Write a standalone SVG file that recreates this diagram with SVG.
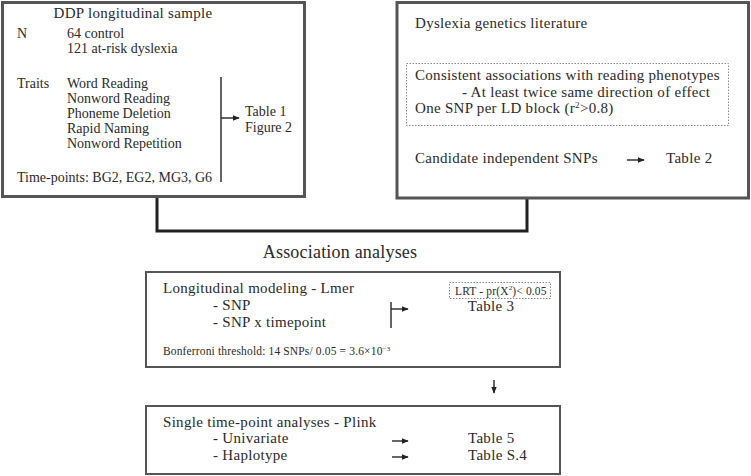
<svg xmlns="http://www.w3.org/2000/svg" width="751" height="476" viewBox="0 0 751 476">
<style>
text{font-family:"Liberation Serif","Times New Roman",serif;fill:#2a2a2a;font-size:15px;letter-spacing:0.3px}
.b1{font-size:14px;letter-spacing:0}
.sm{font-size:11.5px;letter-spacing:0.15px}
.big{font-size:18px;letter-spacing:0.2px}
.box{fill:#fff;stroke:#555;stroke-width:3}
.box2{fill:#fff;stroke:#555;stroke-width:2}
.dot{fill:none;stroke:#888;stroke-width:1;stroke-dasharray:1.5 1.5}
.ln{fill:none;stroke:#333;stroke-width:1.5}
.conn{fill:none;stroke:#222;stroke-width:3}
</style>
<defs>
<marker id="ah" viewBox="0 0 10 10" refX="9" refY="5" markerWidth="7" markerHeight="7" orient="auto" markerUnits="userSpaceOnUse">
<path d="M0,1 L10,5 L0,9 z" fill="#222"/>
</marker>
</defs>
<rect width="751" height="476" fill="#fff"/>
<g id="connectors">
<path class="conn" d="M157,197 V231 H527 V198"/>
</g>
<g id="ddp">
<rect class="box" x="2.5" y="2.5" width="302" height="194"/>
<text x="133" y="18" text-anchor="middle">DDP longitudinal sample</text>
<text class="b1" x="17" y="38">N</text>
<text class="b1" x="67" y="38">64 control</text>
<text class="b1" x="67" y="53">121 at-risk dyslexia</text>
<text class="b1" x="17" y="88">Traits</text>
<text class="b1" x="67" y="88">Word Reading</text>
<text class="b1" x="67" y="103">Nonword Reading</text>
<text class="b1" x="67" y="118">Phoneme Deletion</text>
<text class="b1" x="67" y="133">Rapid Naming</text>
<text class="b1" x="67" y="148">Nonword Repetition</text>
<text class="b1" x="17" y="182">Time-points: BG2, EG2, MG3, G6</text>
<line class="ln" x1="221" y1="77" x2="221" y2="182"/>
<line class="ln" x1="221" y1="118" x2="239" y2="118" marker-end="url(#ah)"/>
<text class="b1" x="245" y="116">Table 1</text>
<text class="b1" x="245" y="132">Figure 2</text>
</g>
<g id="literature">
<rect class="box" x="397" y="2.5" width="351.5" height="195.5"/>
<text x="415" y="28">Dyslexia genetics literature</text>
<rect class="dot" x="406.5" y="63.5" width="322" height="62"/>
<text x="415" y="80">Consistent associations with reading phenotypes</text>
<text x="462" y="97">- At least twice same direction of effect</text>
<text x="415" y="113">One SNP per LD block (r<tspan font-size="9" dy="-5">2</tspan><tspan dy="5">&gt;0.8)</tspan></text>
<text x="415" y="163">Candidate independent SNPs</text>
<line class="ln" x1="627" y1="160" x2="644" y2="160" marker-end="url(#ah)"/>
<text x="666" y="163">Table 2</text>
</g>
<g id="association-title">
<text class="big" x="340" y="258" text-anchor="middle">Association analyses</text>
</g>
<g id="longitudinal">
<rect class="box2" x="146" y="272" width="414" height="95"/>
<text x="163" y="293">Longitudinal modeling - Lmer</text>
<text x="213" y="310">- SNP</text>
<text x="213" y="327">- SNP x timepoint</text>
<text class="sm" x="163" y="355">Bonferroni threshold: 14 SNPs/ 0.05 = 3.6×10<tspan font-size="7" dy="-4">−3</tspan></text>
<rect class="dot" x="449.5" y="282.5" width="101" height="16"/>
<text class="sm" x="455" y="295">LRT - pr(X<tspan font-size="7" dy="-5">2</tspan><tspan dy="5">)&lt; 0.05</tspan></text>
<text x="491" y="311" text-anchor="middle">Table 3</text>
<line class="ln" x1="391" y1="302" x2="391" y2="328"/>
<line class="ln" x1="391" y1="309" x2="408" y2="309" marker-end="url(#ah)"/>
</g>
<g id="down-arrow">
<line class="ln" x1="494" y1="380" x2="494" y2="393" marker-end="url(#ah)"/>
</g>
<g id="single">
<rect class="box2" x="146" y="406" width="414" height="68"/>
<text x="163" y="427">Single time-point analyses - Plink</text>
<text x="213" y="443">- Univariate</text>
<text x="213" y="460">- Haplotype</text>
<line class="ln" x1="392" y1="441" x2="408" y2="441" marker-end="url(#ah)"/>
<line class="ln" x1="392" y1="457" x2="408" y2="457" marker-end="url(#ah)"/>
<text x="468" y="443">Table 5</text>
<text x="468" y="460">Table S.4</text>
</g>
</svg>
